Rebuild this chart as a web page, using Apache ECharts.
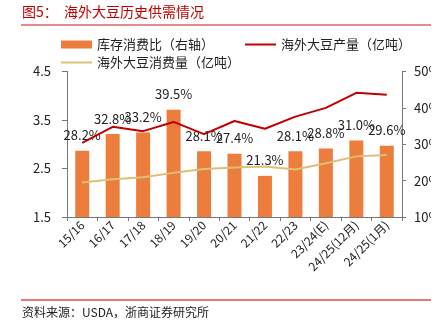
<!DOCTYPE html>
<html>
<head>
<meta charset="utf-8">
<script src="https://cdn.jsdelivr.net/npm/echarts@6/dist/echarts.min.js"></script>
<style>
html,body{margin:0;padding:0;background:#fff;}
#c{width:431px;height:333px;}
</style>
</head>
<body>
<div id="c"></div>
<script>
const categories = ['15/16','16/17','17/18','18/19','19/20','20/21','21/22','22/23','23/24(E)','24/25(12月)','24/25(1月)'];
const stockRatio = [28.2,32.8,33.2,39.5,28.1,27.4,21.3,28.1,28.8,31.0,29.6];
const production = [3.03,3.36,3.27,3.46,3.21,3.48,3.32,3.57,3.75,4.06,4.02];
const consumption = [2.21,2.28,2.32,2.41,2.49,2.52,2.54,2.48,2.61,2.75,2.78];
const leftTicks = [1.5,2.5,3.5,4.5];
const rightTicks = [10,20,30,40,50];
const seriesNames = ['库存消费比（右轴）','海外大豆产量（亿吨）','海外大豆消费量（亿吨）'];

const FONT = '"Noto Sans CJK SC", "Noto Sans", sans-serif';
const chart = echarts.init(document.getElementById('c'));
chart.setOption({
  backgroundColor: '#fff',
  animation: false,
  textStyle: {fontFamily: FONT},
  graphic: [
    {type:'text', left:22, top:5, style:{text:'图5：  海外大豆历史供需情况', fill:'#C00000', font:'14px ' + FONT}},
    {type:'line', shape:{x1:21,y1:25,x2:432,y2:25}, style:{stroke:'#E58A8A', lineWidth:2}},
    {type:'line', shape:{x1:21,y1:300,x2:432,y2:300}, style:{stroke:'#E04848', lineWidth:1.5}},
    {type:'text', left:22, top:306, style:{text:'资料来源：USDA，浙商证券研究所', fill:'#222', font:'12px ' + FONT}}
  ],
  legend: [
    {left:56, top:33, icon:'rect', itemWidth:31, itemHeight:8, itemGap:0, data:[seriesNames[0]], textStyle:{fontSize:13,color:'#222'}},
    {left:240, top:33, icon:'rect', itemWidth:31, itemHeight:2, itemGap:0, data:[seriesNames[1]], textStyle:{fontSize:13,color:'#222'}},
    {left:56, top:51, icon:'rect', itemWidth:31, itemHeight:2, itemGap:0, data:[seriesNames[2]], textStyle:{fontSize:13,color:'#222'}}
  ],
  grid: {left:67, right:29, top:71.5, bottom:116, outerBoundsMode:'none', containLabel:false},
  xAxis: {
    type:'category', data: categories, boundaryGap:true,
    axisLine:{lineStyle:{color:'#777'}},
    axisTick:{show:true, alignWithLabel:false, length:4, lineStyle:{color:'#777'}},
    axisLabel:{rotate:45, fontSize:12, color:'#222', interval:0, margin:6}
  },
  yAxis: [
    {
      type:'value', min:1.5, max:4.5, position:'left',
      splitLine:{show:false},
      axisLine:{show:true, lineStyle:{color:'#777'}},
      axisTick:{show:true, length:5, lineStyle:{color:'#777'}, customValues: leftTicks},
      axisLabel:{fontSize:13, color:'#222', margin:16, customValues: leftTicks, formatter: v => v.toFixed(1)}
    },
    {
      type:'value', min:10, max:50, interval:10, position:'right',
      splitLine:{show:false},
      axisLine:{show:true, lineStyle:{color:'#777'}},
      axisTick:{show:true, length:4, lineStyle:{color:'#777'}, customValues: rightTicks},
      axisLabel:{fontSize:13, color:'#222', margin:12, customValues: rightTicks, formatter: v => v + '%'}
    }
  ],
  series: [
    {
      name: seriesNames[0], type:'bar', yAxisIndex:1, data: stockRatio, barWidth:14,
      itemStyle:{color:'#EC7D3C'},
      label:{show:true, position:'top', distance:9, fontSize:13, color:'#222', formatter: p => p.value.toFixed(1) + '%'}
    },
    {
      name: seriesNames[1], type:'line', yAxisIndex:0, data: production, symbol:'none',
      lineStyle:{color:'#C00000', width:2}, itemStyle:{color:'#C00000'}, z:3
    },
    {
      name: seriesNames[2], type:'line', yAxisIndex:0, data: consumption, symbol:'none',
      lineStyle:{color:'#DCC07A', width:2}, itemStyle:{color:'#DCC07A'}, z:3
    }
  ]
});
</script>
</body>
</html>
